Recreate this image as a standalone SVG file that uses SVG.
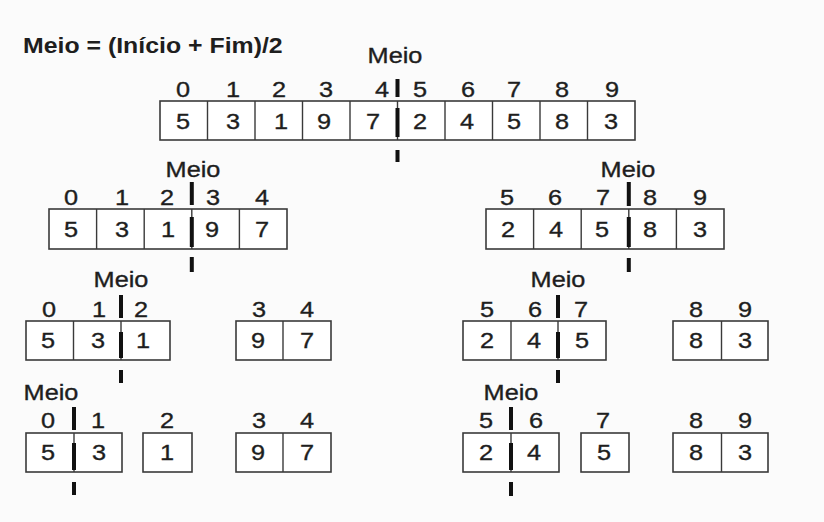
<svg xmlns="http://www.w3.org/2000/svg" width="824" height="522" viewBox="0 0 824 522">
<style>
.bg{fill:#fbfbfb}
.box{fill:#fff;stroke:#3a3a3a;stroke-width:1.6}
.div{stroke:#3a3a3a;stroke-width:1.4}
.bar{stroke:#111;stroke-width:4}
.t{font-family:"Liberation Sans",Arial,sans-serif;font-size:22px;fill:#1e1e1e;stroke:#1e1e1e;stroke-width:0.35;text-anchor:middle}
.title{font-family:"Liberation Sans",Arial,sans-serif;font-size:22px;font-weight:bold;fill:#1e1e1e}
</style>
<rect class="bg" x="0" y="0" width="824" height="522"/>
<text class="title" transform="translate(23 53) scale(1.13 1)">Meio = (Início + Fim)/2</text>

<g id="row1">
<rect class="box" x="160" y="101" width="475" height="39"/>
<path class="div" d="M207.5 101V140M255 101V140M302.5 101V140M350 101V140M445 101V140M492.5 101V140M540 101V140M587.5 101V140M397.5 101V140"/>
<text class="t" transform="translate(395 63) scale(1.15 1)">Meio</text>
<g>
<text class="t" transform="translate(183 96.5) scale(1.15 1)">0</text>
<text class="t" transform="translate(233 96.5) scale(1.15 1)">1</text>
<text class="t" transform="translate(279 96.5) scale(1.15 1)">2</text>
<text class="t" transform="translate(326 96.5) scale(1.15 1)">3</text>
<text class="t" transform="translate(382 96.5) scale(1.15 1)">4</text>
<text class="t" transform="translate(420 96.5) scale(1.15 1)">5</text>
<text class="t" transform="translate(468 96.5) scale(1.15 1)">6</text>
<text class="t" transform="translate(514 96.5) scale(1.15 1)">7</text>
<text class="t" transform="translate(562 96.5) scale(1.15 1)">8</text>
<text class="t" transform="translate(612 96.5) scale(1.15 1)">9</text>
</g>
<g>
<text class="t" transform="translate(183 129) scale(1.15 1)">5</text>
<text class="t" transform="translate(233 129) scale(1.15 1)">3</text>
<text class="t" transform="translate(281 129) scale(1.15 1)">1</text>
<text class="t" transform="translate(324 129) scale(1.15 1)">9</text>
<text class="t" transform="translate(373 129) scale(1.15 1)">7</text>
<text class="t" transform="translate(420 129) scale(1.15 1)">2</text>
<text class="t" transform="translate(467 129) scale(1.15 1)">4</text>
<text class="t" transform="translate(514 129) scale(1.15 1)">5</text>
<text class="t" transform="translate(562 129) scale(1.15 1)">8</text>
<text class="t" transform="translate(611 129) scale(1.15 1)">3</text>
</g>
<path class="bar" d="M397.5 79V97M397.5 108V137M397.5 150V162"/>
</g>

<g id="row2-left">
<rect class="box" x="49" y="209" width="238" height="40"/>
<path class="div" d="M96.6 209V249M144.2 209V249M191.8 209V249M239.4 209V249"/>
<text class="t" transform="translate(193 177) scale(1.15 1)">Meio</text>
<text class="t" transform="translate(71 205) scale(1.15 1)">0</text>
<text class="t" transform="translate(122 205) scale(1.15 1)">1</text>
<text class="t" transform="translate(167 205) scale(1.15 1)">2</text>
<text class="t" transform="translate(213 205) scale(1.15 1)">3</text>
<text class="t" transform="translate(262 205) scale(1.15 1)">4</text>
<text class="t" transform="translate(71 237) scale(1.15 1)">5</text>
<text class="t" transform="translate(122 237) scale(1.15 1)">3</text>
<text class="t" transform="translate(168 237) scale(1.15 1)">1</text>
<text class="t" transform="translate(212 237) scale(1.15 1)">9</text>
<text class="t" transform="translate(262 237) scale(1.15 1)">7</text>
<path class="bar" d="M191.8 182V205M191.8 217V247M191.8 257V272"/>
</g>

<g id="row2-right">
<rect class="box" x="486" y="209" width="238" height="40"/>
<path class="div" d="M533.6 209V249M581.2 209V249M628.8 209V249M676.4 209V249"/>
<text class="t" transform="translate(628 177) scale(1.15 1)">Meio</text>
<text class="t" transform="translate(507 205) scale(1.15 1)">5</text>
<text class="t" transform="translate(555 205) scale(1.15 1)">6</text>
<text class="t" transform="translate(603 205) scale(1.15 1)">7</text>
<text class="t" transform="translate(650 205) scale(1.15 1)">8</text>
<text class="t" transform="translate(700 205) scale(1.15 1)">9</text>
<text class="t" transform="translate(508 237) scale(1.15 1)">2</text>
<text class="t" transform="translate(556 237) scale(1.15 1)">4</text>
<text class="t" transform="translate(602 237) scale(1.15 1)">5</text>
<text class="t" transform="translate(650 237) scale(1.15 1)">8</text>
<text class="t" transform="translate(700 237) scale(1.15 1)">3</text>
<path class="bar" d="M628.8 182V206M628.8 217V247M628.8 258V272"/>
</g>

<g id="row3-left-a">
<rect class="box" x="26" y="321" width="144" height="39"/>
<path class="div" d="M73.5 321V360M121 321V360"/>
<text class="t" transform="translate(121 287) scale(1.15 1)">Meio</text>
<text class="t" transform="translate(49 317) scale(1.15 1)">0</text>
<text class="t" transform="translate(99 317) scale(1.15 1)">1</text>
<text class="t" transform="translate(141 317) scale(1.15 1)">2</text>
<text class="t" transform="translate(48 348) scale(1.15 1)">5</text>
<text class="t" transform="translate(98 348) scale(1.15 1)">3</text>
<text class="t" transform="translate(143 348) scale(1.15 1)">1</text>
<path class="bar" d="M121 295V318M121 332V358M121 370V383"/>
</g>
<g id="row3-left-b">
<rect class="box" x="236" y="321" width="95" height="39"/>
<path class="div" d="M283 321V360"/>
<text class="t" transform="translate(259 317) scale(1.15 1)">3</text>
<text class="t" transform="translate(307 317) scale(1.15 1)">4</text>
<text class="t" transform="translate(258 348) scale(1.15 1)">9</text>
<text class="t" transform="translate(307 348) scale(1.15 1)">7</text>
</g>

<g id="row3-right-a">
<rect class="box" x="463" y="321" width="143" height="39"/>
<path class="div" d="M511 321V360M558 321V360"/>
<text class="t" transform="translate(558 287) scale(1.15 1)">Meio</text>
<text class="t" transform="translate(487 317) scale(1.15 1)">5</text>
<text class="t" transform="translate(535 317) scale(1.15 1)">6</text>
<text class="t" transform="translate(581 317) scale(1.15 1)">7</text>
<text class="t" transform="translate(487 348) scale(1.15 1)">2</text>
<text class="t" transform="translate(534 348) scale(1.15 1)">4</text>
<text class="t" transform="translate(582 348) scale(1.15 1)">5</text>
<path class="bar" d="M558 295V318M558 332V358M558 370V383"/>
</g>
<g id="row3-right-b">
<rect class="box" x="673" y="321" width="95" height="39"/>
<path class="div" d="M721.5 321V360"/>
<text class="t" transform="translate(696 317) scale(1.15 1)">8</text>
<text class="t" transform="translate(745 317) scale(1.15 1)">9</text>
<text class="t" transform="translate(696 348) scale(1.15 1)">8</text>
<text class="t" transform="translate(745 348) scale(1.15 1)">3</text>
</g>

<g id="row4-left-a">
<rect class="box" x="26" y="433" width="96" height="39"/>
<path class="div" d="M74 433V472"/>
<text class="t" transform="translate(51 400) scale(1.15 1)">Meio</text>
<text class="t" transform="translate(48 428) scale(1.15 1)">0</text>
<text class="t" transform="translate(98 428) scale(1.15 1)">1</text>
<text class="t" transform="translate(48 460) scale(1.15 1)">5</text>
<text class="t" transform="translate(99 460) scale(1.15 1)">3</text>
<path class="bar" d="M74 407V430M74 443V470M74 482V495"/>
</g>
<g id="row4-left-b">
<rect class="box" x="143" y="433" width="49" height="39"/>
<text class="t" transform="translate(167 428) scale(1.15 1)">2</text>
<text class="t" transform="translate(167 460) scale(1.15 1)">1</text>
</g>
<g id="row4-left-c">
<rect class="box" x="236" y="433" width="95" height="39"/>
<path class="div" d="M283 433V472"/>
<text class="t" transform="translate(259 428) scale(1.15 1)">3</text>
<text class="t" transform="translate(307 428) scale(1.15 1)">4</text>
<text class="t" transform="translate(258 460) scale(1.15 1)">9</text>
<text class="t" transform="translate(307 460) scale(1.15 1)">7</text>
</g>

<g id="row4-right-a">
<rect class="box" x="463" y="433" width="96" height="39"/>
<path class="div" d="M511 433V472"/>
<text class="t" transform="translate(511 400) scale(1.15 1)">Meio</text>
<text class="t" transform="translate(486 428) scale(1.15 1)">5</text>
<text class="t" transform="translate(536 428) scale(1.15 1)">6</text>
<text class="t" transform="translate(486 460) scale(1.15 1)">2</text>
<text class="t" transform="translate(534 460) scale(1.15 1)">4</text>
<path class="bar" d="M511 407V430M511 443V470M511 482V496"/>
</g>
<g id="row4-right-b">
<rect class="box" x="581" y="433" width="48" height="39"/>
<text class="t" transform="translate(603 428) scale(1.15 1)">7</text>
<text class="t" transform="translate(604 460) scale(1.15 1)">5</text>
</g>
<g id="row4-right-c">
<rect class="box" x="673" y="433" width="95" height="39"/>
<path class="div" d="M721.5 433V472"/>
<text class="t" transform="translate(696 428) scale(1.15 1)">8</text>
<text class="t" transform="translate(745 428) scale(1.15 1)">9</text>
<text class="t" transform="translate(696 460) scale(1.15 1)">8</text>
<text class="t" transform="translate(745 460) scale(1.15 1)">3</text>
</g>
</svg>
